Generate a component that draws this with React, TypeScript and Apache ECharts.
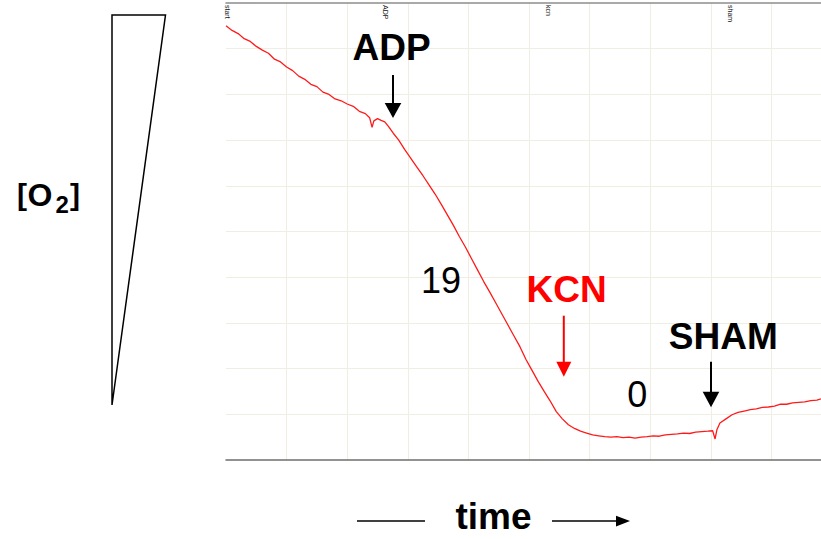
import React, { useEffect, useRef } from "react";
import * as echarts from "echarts";

// time (in grid units) and oxygen trace (in grid units)
const time = [
  0.0, 0.1, 0.2, 0.3, 0.4, 0.5, 0.6, 0.7, 0.8, 0.9,
  1.0, 1.1, 1.2, 1.3, 1.4, 1.5, 1.6, 1.7, 1.8, 1.9,
  2.0, 2.1, 2.2, 2.3, 2.37, 2.41, 2.44, 2.5, 2.56, 2.62,
  2.68, 2.76, 2.85, 2.95, 3.05, 3.15, 3.25, 3.35, 3.45, 3.55,
  3.65, 3.75, 3.85, 3.95, 4.05, 4.15, 4.25, 4.35, 4.45, 4.55,
  4.65, 4.75, 4.85, 4.95, 5.05, 5.15, 5.25, 5.35, 5.45, 5.55,
  5.65, 5.75, 5.85, 5.95, 6.05, 6.15, 6.25, 6.35, 6.45, 6.55,
  6.65, 6.75, 6.85, 6.95, 7.05, 7.15, 7.25, 7.35, 7.45, 7.55,
  7.65, 7.75, 7.85, 7.95, 8.03, 8.07, 8.1, 8.15, 8.25, 8.35,
  8.45, 8.55, 8.65, 8.75, 8.85, 8.95, 9.05, 9.15, 9.25, 9.35,
  9.45, 9.55, 9.65, 9.75, 9.82,
];
const o2 = [
  9.5, 9.4, 9.33, 9.22, 9.16, 9.05, 8.97, 8.9, 8.77, 8.71,
  8.6, 8.52, 8.4, 8.33, 8.22, 8.17, 8.05, 8.0, 7.9, 7.86,
  7.79, 7.74, 7.63, 7.58, 7.49, 7.28, 7.42, 7.47, 7.43, 7.4,
  7.3, 7.15, 7.0, 6.79, 6.6, 6.41, 6.22, 6.02, 5.82, 5.6,
  5.37, 5.14, 4.89, 4.66, 4.41, 4.16, 3.91, 3.68, 3.44, 3.2,
  2.96, 2.72, 2.48, 2.2, 1.96, 1.72, 1.5, 1.29, 1.06, 0.9,
  0.77, 0.69, 0.63, 0.59, 0.55, 0.53, 0.51, 0.5, 0.51, 0.49,
  0.5, 0.48, 0.5, 0.51, 0.53, 0.52, 0.55, 0.56, 0.57, 0.59,
  0.58, 0.61, 0.62, 0.63, 0.64, 0.46, 0.66, 0.81, 0.9, 0.99,
  1.04, 1.07, 1.1, 1.12, 1.15, 1.16, 1.18, 1.22, 1.22, 1.25,
  1.26, 1.27, 1.3, 1.31, 1.34,
];

// event marks along the top of the recorder trace
const eventTimes = [0, 2.61, 5.31, 8.3];
const eventLabels = ["start", "ADP", "kcn", "sham"];

// axis extents
const xMin = 0;
const xMax = 9.818;
const yMin = 0;
const yMax = 10;
const gridStep = 1;

const FONT = "'Liberation Sans', Arial, Helvetica, sans-serif";

function txt(
  text: string,
  x: number,
  y: number,
  size: number,
  weight: string,
  fill: string,
  align: string = "center"
) {
  return {
    type: "text",
    x,
    y,
    silent: true,
    style: {
      text,
      fontSize: size,
      fontWeight: weight,
      fontFamily: FONT,
      fill,
      align,
      textAlign: align,
      verticalAlign: "middle",
      textVerticalAlign: "middle",
    },
  };
}

function arrowDown(x: number, y1: number, y2: number, headTop: number, halfW: number, color: string) {
  return [
    {
      type: "line",
      silent: true,
      shape: { x1: x, y1, x2: x, y2: headTop + 2 },
      style: { stroke: color, lineWidth: 2 },
    },
    {
      type: "polygon",
      silent: true,
      shape: { points: [[x - halfW, headTop], [x + halfW, headTop], [x, y2]] },
      style: { fill: color },
    },
  ];
}

export default function App() {
  const ref = useRef<HTMLDivElement>(null);

  useEffect(() => {
    const chart = echarts.init(ref.current!, null, { renderer: "svg" });
    const gridColor = "#f0eee2";

    chart.setOption({
      animation: false,
      backgroundColor: "#ffffff",
      grid: { left: 226, top: 3, width: 595, height: 457, containLabel: false },
      xAxis: [
        {
          type: "value",
          min: xMin,
          max: xMax,
          interval: gridStep,
          position: "bottom",
          axisLine: { show: true, lineStyle: { color: "#6e6e6e", width: 1.5 } },
          axisTick: { show: false },
          axisLabel: { show: false },
          splitLine: {
            show: true,
            showMinLine: false,
            showMaxLine: false,
            lineStyle: { color: gridColor, width: 1 },
          },
        },
        {
          type: "value",
          min: xMin,
          max: xMax,
          interval: gridStep,
          position: "top",
          axisLine: { show: true, lineStyle: { color: "#8c8c8c", width: 1.5 } },
          axisTick: { show: false },
          axisLabel: { show: false },
          splitLine: { show: false },
        },
      ],
      yAxis: {
        type: "value",
        min: yMin,
        max: yMax,
        interval: gridStep,
        axisLine: { show: false },
        axisTick: { show: false },
        axisLabel: { show: false },
        splitLine: {
          show: true,
          showMinLine: false,
          showMaxLine: false,
          lineStyle: { color: gridColor, width: 1 },
        },
      },
      series: [
        {
          type: "line",
          data: time.map((t, i) => [t, o2[i]]),
          showSymbol: false,
          symbol: "none",
          lineStyle: { color: "#ff1a1a", width: 1.3 },
          silent: true,
          z: 5,
        },
      ],
    });

    const events = eventTimes.map((t, i) => {
      const px = chart.convertToPixel({ xAxisIndex: 0 }, t) as number;
      return {
        type: "text",
        x: px + 1,
        y: 5,
        rotation: -Math.PI / 2,
        silent: true,
        style: {
          text: eventLabels[i],
          fontSize: 7,
          fontFamily: FONT,
          fill: "#111111",
          align: "left",
          textAlign: "left",
          verticalAlign: "middle",
          textVerticalAlign: "middle",
        },
      };
    });

    const graphics: any[] = [
      // concentration wedge
      {
        type: "polygon",
        silent: true,
        shape: { points: [[112, 15], [165.5, 15], [112, 405]] },
        style: { fill: "none", stroke: "#000000", lineWidth: 1.5 },
      },
      txt("[", 17, 194.6, 30, "bold", "#000", "left"),
      txt("O", 27.5, 194.6, 32, "bold", "#000", "left"),
      txt("2", 55.5, 204.7, 24, "bold", "#000", "left"),
      txt("]", 70, 194.6, 30, "bold", "#000", "left"),
      // annotations
      txt("ADP", 391.5, 47.2, 37, "bold", "#000"),
      ...arrowDown(393, 75, 118, 103, 8.3, "#000"),
      txt("19", 441, 280.2, 36, "normal", "#000"),
      txt("KCN", 566.7, 289.5, 37, "bold", "#ff0000"),
      ...arrowDown(563.8, 315.7, 376.7, 361.7, 7.5, "#ff0000"),
      txt("0", 637.3, 394.2, 36, "normal", "#000"),
      txt("SHAM", 723.3, 336.2, 37, "bold", "#000"),
      ...arrowDown(711, 361.7, 407.3, 391.7, 8.3, "#000"),
      // time axis caption
      txt("time", 493.5, 516.5, 37, "bold", "#000"),
      {
        type: "line",
        silent: true,
        shape: { x1: 357, y1: 521, x2: 425, y2: 521 },
        style: { stroke: "#000", lineWidth: 1.5 },
      },
      {
        type: "line",
        silent: true,
        shape: { x1: 552, y1: 521, x2: 618, y2: 521 },
        style: { stroke: "#000", lineWidth: 1.5 },
      },
      {
        type: "polygon",
        silent: true,
        shape: { points: [[616, 515.7], [630, 521], [616, 526.5]] },
        style: { fill: "#000" },
      },
      ...events,
    ];

    chart.setOption({ graphic: { elements: graphics } });

    return () => {
      chart.dispose();
    };
  }, []);

  return (
    <div
      ref={ref}
      style={{ position: "fixed", left: 0, top: 0, width: 821, height: 539, background: "#fff" }}
    />
  );
}
